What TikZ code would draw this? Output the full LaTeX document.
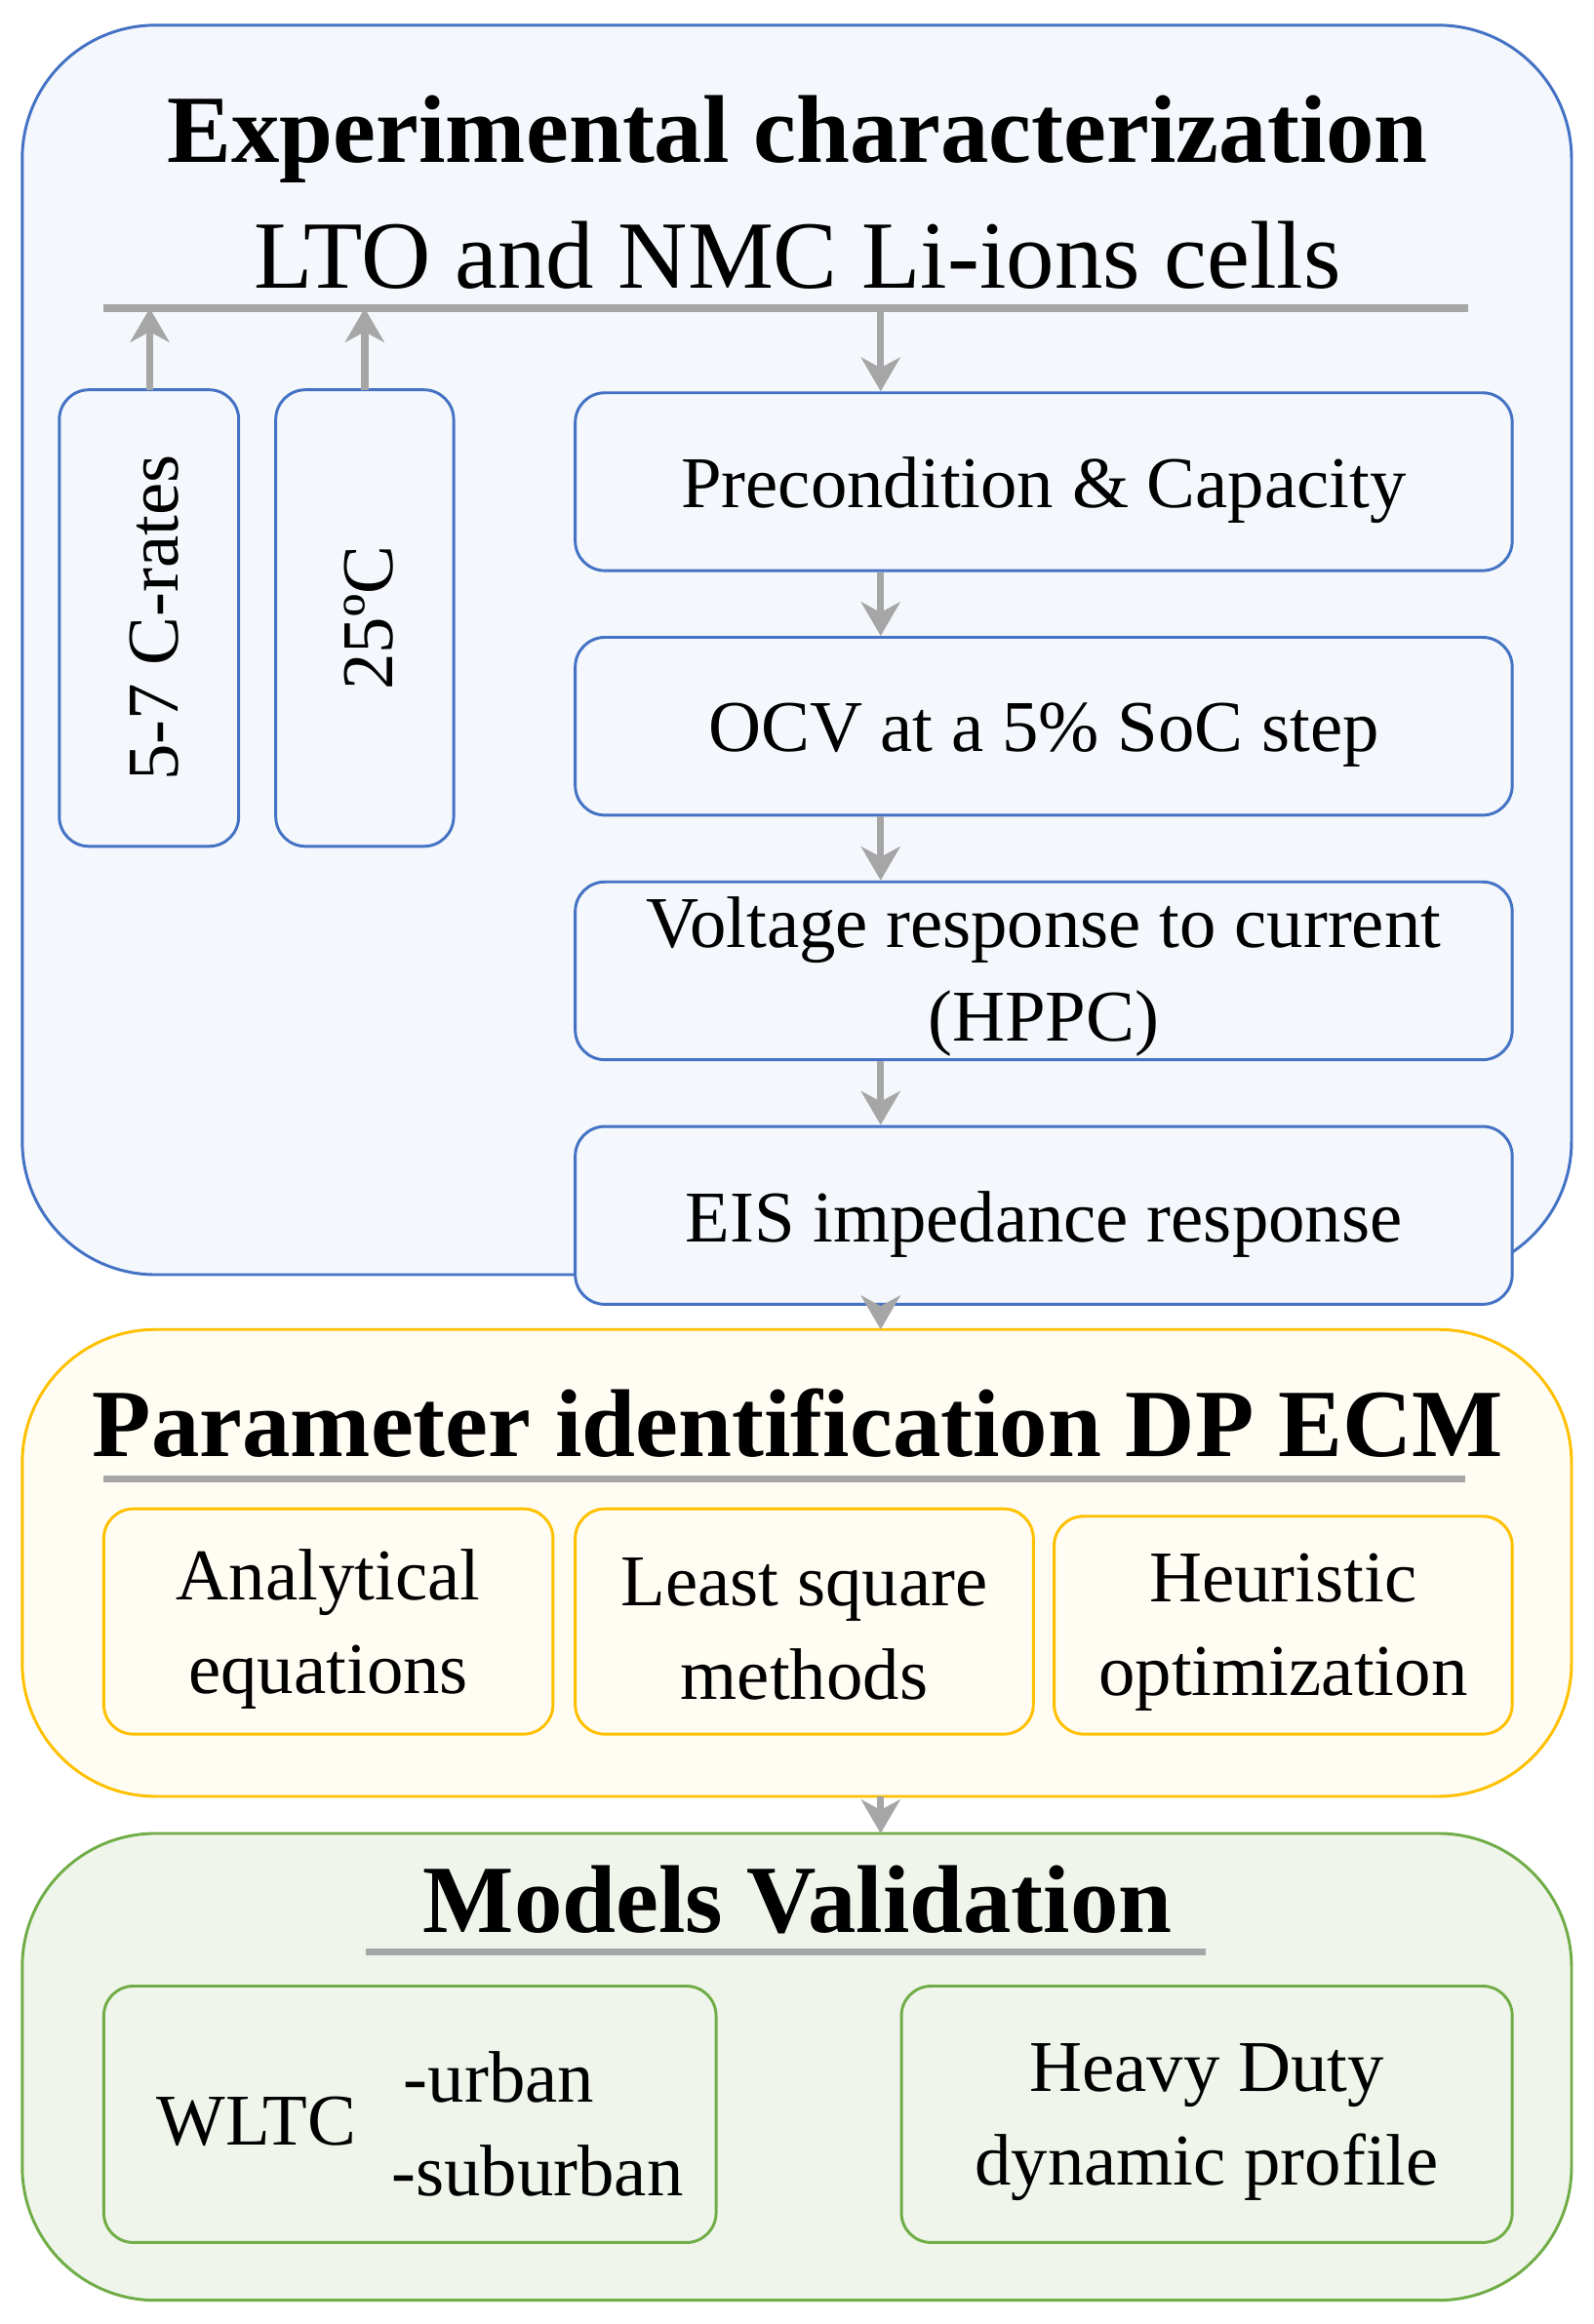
\documentclass[tikz,border=0pt]{standalone}
\usepackage{fontspec}
\setmainfont{Liberation Serif}
\usetikzlibrary{arrows.meta}
\definecolor{bblue}{HTML}{4472C4}
\definecolor{bfill}{HTML}{F4F7FB}
\definecolor{yb}{HTML}{FFC000}
\definecolor{yfill}{HTML}{FFFCF3}
\definecolor{gb}{HTML}{70AD47}
\definecolor{gfill}{HTML}{EFF5EB}
\definecolor{gr}{HTML}{A6A6A6}
\begin{document}
\begin{tikzpicture}[x=0.02cm,y=-0.02cm,
 big/.style={rounded corners=1.8cm,line width=1.1pt},
 sb/.style={rounded corners=0.4cm,line width=1.1pt},
 arr/.style={gr,line width=2.8pt,-{Stealth[length=13pt,width=15pt,inset=4pt]}},
 gl/.style={gr,line width=2.8pt},
 ttl/.style={font=\fontsize{37}{42}\selectfont\bfseries},
 txt/.style={font=\fontsize{28}{36}\selectfont,align=center}]
\useasboundingbox (0,0) rectangle (1075,1568);
% blue
\draw[big,bblue,fill=bfill] (15,17) rectangle (1060,860);
\node[ttl] (t1) at (538,94) {Experimental characterization};
\node[font=\fontsize{37}{42}\selectfont] (t1b) at (538,172) {LTO and NMC Li-ions cells};
\coordinate (la) at (70,208); \coordinate (lb) at (990,208);
\draw[gl] (la) -- (lb);
\draw[sb,bblue,fill=bfill] (40,263) rectangle (161,571);
\draw[sb,bblue,fill=bfill] (186,263) rectangle (306,571);
\node[txt,rotate=90] (cr) at (104,417) {5-7 C-rates};
\node[txt,rotate=90] (tc) at (249,417) {25ºC};
\coordinate (c1) at (101,263); \coordinate (c1t) at (101,208);
\coordinate (c2) at (246,263); \coordinate (c2t) at (246,208);
\draw[arr] (c1) -- (c1t);
\draw[arr] (c2) -- (c2t);
\tikzset{rb/.style={draw=bblue,fill=bfill,sb,txt,minimum width=632*0.02cm,minimum height=120*0.02cm}}
\node[rb] (b1) at (704,325) {};
\node[txt] at (704,331) {Precondition \& Capacity};
\node[rb] (b2) at (704,490) {};
\node[txt] at (704,496) {OCV at a 5\% SoC step};
\node[rb] (b3) at (704,655) {};
\node[txt] at (704,659) {Voltage response to current\\(HPPC)};
\node[rb] (b4) at (704,820) {};
\node[txt] at (704,826) {EIS impedance response};
\coordinate (d0) at (594,208);
\draw[arr] (d0) -- (b1.north -| d0);
\draw[arr] (b1.south -| d0) -- (b2.north -| d0);
\draw[arr] (b2.south -| d0) -- (b3.north -| d0);
\draw[arr] (b3.south -| d0) -- (b4.north -| d0);
% yellow
\draw[big,yb,fill=yfill] (15,897) rectangle (1060,1212);
\coordinate (y0) at (594,897);
\draw[arr] (b4.south -| d0) -- (y0);
\node[ttl] (t2) at (538,960) {Parameter identification DP ECM};
\coordinate (ya) at (70,998); \coordinate (yb2) at (988,998);
\draw[gl] (ya) -- (yb2);
\draw[yb,fill=yfill,sb] (70,1018) rectangle (373,1170);
\draw[yb,fill=yfill,sb] (388,1018) rectangle (697,1170);
\draw[yb,fill=yfill,sb] (711,1023) rectangle (1020,1170);
\node[txt] (p1) at (221.5,1099) {Analytical\\equations};
\node[txt] (p2) at (542.5,1099) {Least square\\methods};
\node[txt] (p3) at (865.5,1101) {Heuristic\\optimization};
% green
\draw[big,gb,fill=gfill] (15,1237) rectangle (1060,1552);
\coordinate (y1) at (594,1212); \coordinate (g0) at (594,1237);
\draw[arr] (y1) -- (g0);
\node[ttl] (t3) at (538,1282) {Models Validation};
\coordinate (ga) at (247,1317); \coordinate (gb2) at (813,1317);
\draw[gl] (ga) -- (gb2);
\draw[gb,fill=gfill,sb] (70,1340) rectangle (483,1513);
\draw[gb,fill=gfill,sb] (608,1340) rectangle (1020,1513);
\node[txt] (w) at (173,1431) {WLTC};
\node[txt,align=left,anchor=west] (wu) at (258,1433) {\,-urban\\-suburban};
\node[txt] (m2) at (814,1432) {Heavy Duty\\dynamic profile};
\end{tikzpicture}
\end{document}
